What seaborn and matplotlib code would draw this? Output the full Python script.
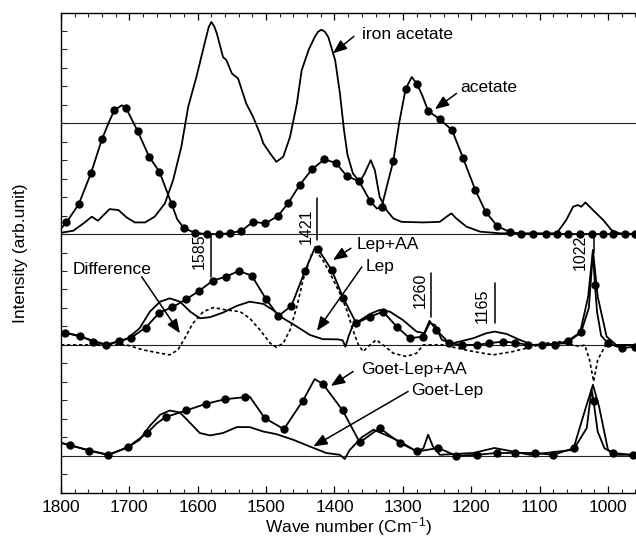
import numpy as np
import matplotlib
matplotlib.use("Agg")
import matplotlib.pyplot as plt
from matplotlib.ticker import MultipleLocator, NullFormatter
import seaborn as sns

# ---------------- data (wavenumber in cm^-1, intensity in arb. units) ----------------
# top panel: acetate (markers) and iron acetate (plain line)
acet_mk_wn = [1792, 1774, 1756, 1740, 1722, 1705, 1688, 1671, 1656, 1638,
              1620, 1604, 1587, 1569, 1553, 1536, 1519, 1501, 1483, 1468,
              1451, 1433, 1415, 1398, 1382, 1364, 1348, 1331, 1314, 1296,
              1279, 1263, 1246, 1228, 1212, 1194, 1179, 1162, 1144, 1127,
              1110, 1091, 1075, 1058, 1041, 1024, 1007, 993, 975, 961]
acet_mk_val = [0.63, 1.62, 3.31, 5.14, 6.70, 6.83, 5.58, 4.18, 3.37, 1.61,
               0.31, 0.07, 0.0, 0.0, 0.04, 0.18, 0.66, 0.58, 0.97, 1.66,
               2.65, 3.50, 4.04, 3.85, 3.14, 2.86, 1.80, 1.48, 3.95, 7.84,
               8.11, 6.66, 6.22, 5.62, 4.12, 2.38, 1.21, 0.43, 0.12, 0.0,
               0.0, 0.0, 0.0, 0.0, 0.0, 0.0, 0.0, 0.0, 0.0, 0.0]
acet_extra_wn = [1800, 1730, 1711, 1630, 1338, 1305, 1287, 1271, 958]
acet_extra_val = [0.30, 6.05, 6.97, 0.80, 1.38, 6.10, 8.50, 7.45, 0.0]

iron_wn = [1800, 1782, 1767, 1755, 1746, 1729, 1716, 1704, 1692, 1677,
           1663, 1648, 1636, 1624, 1614, 1602, 1590, 1584, 1580, 1576, 1572, 1563,
           1558, 1550, 1541, 1529, 1519, 1509, 1504, 1494, 1485, 1475,
           1465, 1455, 1448, 1438, 1429, 1424, 1419, 1414, 1409, 1399, 1392, 1386,
           1381, 1373, 1363, 1356, 1347, 1341, 1334, 1324, 1314, 1302,
           1270, 1246, 1236, 1229, 1222, 1207, 1187, 1158, 1075, 1061,
           1051, 1044, 1039, 1033, 1022, 1007, 995, 983, 958]
iron_val = [0.07, 0.18, 0.58, 0.94, 0.72, 1.35, 1.30, 0.90, 0.63, 0.63,
            0.94, 1.66, 2.92, 4.72, 6.88, 8.50, 10.31, 11.20, 11.48, 11.25, 10.85, 9.58,
            9.41, 8.69, 8.42, 7.06, 6.34, 5.44, 4.90, 4.36, 3.91, 4.18,
            5.26, 7.06, 8.86, 9.95, 10.66, 10.95, 11.06, 10.95, 10.66, 9.41, 7.61, 5.60,
            4.30, 3.28, 2.83, 3.28, 4.00, 3.46, 2.02, 1.30, 0.85, 0.66,
            0.63, 0.66, 0.94, 1.12, 0.85, 0.40, 0.13, 0.04, 0.04, 0.76,
            1.48, 1.57, 1.48, 1.71, 1.30, 0.76, 0.22, 0.04, 0.0]

# middle panel: Lep+AA (markers), Lep (plain), Difference (dashed)
lepaa_mk_wn = [1794, 1772, 1753, 1734, 1715, 1697, 1676, 1656, 1637, 1617,
               1598, 1578, 1559, 1540, 1521, 1500, 1482, 1463, 1443, 1424,
               1404, 1387, 1368, 1348, 1329, 1309, 1290, 1271, 1251, 1232,
               1213, 1192, 1174, 1154, 1136, 1117, 1097, 1078, 1058, 1039,
               1019, 1000, 980, 961]
lepaa_mk_val = [0.66, 0.49, 0.18, 0.0, 0.22, 0.40, 0.94, 1.75, 2.04, 2.47,
                2.92, 3.48, 3.69, 4.00, 3.75, 2.47, 1.57, 2.11, 4.02, 5.19,
                4.05, 2.52, 1.17, 1.53, 1.80, 0.99, 0.36, 0.45, 0.81, 0.09,
                0.0, 0.0, 0.09, 0.18, 0.12, 0.0, 0.0, 0.0, 0.23, 0.72,
                3.24, 0.09, -0.18, -0.09]
lepaa_extra_wn = [1800, 1428, 1261, 1028, 1022, 1016, 1010, 958]
lepaa_extra_val = [0.70, 5.31, 1.30, 2.00, 5.00, 1.80, 0.50, -0.05]

lep_wn = [1800, 1772, 1733, 1704, 1685, 1670, 1655, 1641, 1626, 1611,
          1597, 1582, 1563, 1543, 1524, 1504, 1490, 1475, 1455, 1436,
          1417, 1395, 1388, 1384, 1379, 1373, 1358, 1346, 1334, 1319,
          1300, 1280, 1268, 1261, 1253, 1243, 1227, 1197, 1178, 1166,
          1148, 1129, 1110, 1061, 1041, 1029, 1022, 1015, 1002, 988, 958]
lep_val = [0.72, 0.45, 0.0, 0.31, 0.90, 1.80, 2.34, 2.52, 2.34, 1.80,
           1.44, 1.50, 1.75, 2.11, 2.34, 2.22, 1.89, 1.44, 0.99, 0.54,
           0.31, 0.30, 0.25, -0.10, 0.50, 1.08, 1.44, 1.71, 1.89, 1.80,
           1.35, 0.72, 0.63, 1.17, 1.08, 0.27, 0.09, 0.36, 0.63, 0.72,
           0.59, 0.27, 0.0, 0.09, 0.63, 2.61, 5.14, 2.61, 0.45, 0.0, 0.0]

diff_wn = [1800, 1704, 1680, 1655, 1641, 1629, 1619, 1607, 1592, 1577,
           1558, 1538, 1524, 1509, 1494, 1485, 1475, 1465, 1455, 1446,
           1434, 1426, 1417, 1404, 1392, 1382, 1373, 1365, 1358, 1348,
           1339, 1329, 1314, 1295, 1280, 1270, 1240, 1231, 1197, 1168,
           1139, 1110, 1090, 1071, 1051, 1041, 1034, 1027, 1021, 1015,
           1002, 990, 958]
diff_val = [0.0, 0.0, -0.27, -0.45, -0.54, -0.27, 0.36, 1.17, 1.80, 2.02,
            1.89, 1.80, 1.44, 0.81, 0.09, -0.13, 0.09, 0.81, 2.07, 3.51,
            4.86, 5.04, 4.59, 3.69, 2.79, 1.89, 0.81, 0.0, -0.36, 0.0,
            0.27, 0.0, -0.45, -0.63, -0.45, 0.0, 0.0, -0.09, -0.36, -0.54,
            -0.36, -0.09, 0.09, 0.18, 0.0, -0.09, 0.0, -0.80, -1.98, -0.81,
            0.09, 0.0, 0.0]

# bottom panel: Goet-Lep+AA (markers) and Goet-Lep (plain)
glaa_mk_wn = [1787, 1759, 1731, 1702, 1674, 1647, 1617, 1588, 1560, 1531,
              1502, 1474, 1446, 1417, 1388, 1363, 1334, 1304, 1279, 1248,
              1222, 1192, 1163, 1136, 1107, 1080, 1049, 1021, 993, 964]
glaa_mk_val = [0.59, 0.27, 0.05, 0.47, 1.23, 2.09, 2.45, 2.81, 3.06, 3.17,
               2.04, 1.44, 2.99, 3.89, 2.45, 0.72, 1.50, 0.69, 0.23, 0.42,
               0.0, 0.05, 0.15, 0.15, 0.15, 0.05, 0.42, 2.94, 0.15, 0.05]
glaa_extra_wn = [1800, 1660, 1524, 1429, 1031, 1024, 1015, 1005, 958]
glaa_extra_val = [0.70, 1.75, 3.20, 4.15, 1.50, 3.60, 1.30, 0.40, 0.05]

gl_wn = [1800, 1772, 1731, 1704, 1685, 1670, 1655, 1641, 1626, 1611,
         1597, 1582, 1563, 1543, 1524, 1504, 1485, 1460, 1436, 1412,
         1392, 1385, 1378, 1360, 1343, 1329, 1304, 1280, 1270, 1263,
         1256, 1246, 1197, 1166, 1139, 1114, 1051, 1032, 1022, 1013,
         1000, 988, 958]
gl_val = [0.69, 0.42, 0.05, 0.42, 0.86, 1.62, 2.22, 2.45, 2.34, 1.77,
          1.23, 1.10, 1.23, 1.55, 1.55, 1.31, 1.17, 0.86, 0.50, 0.15,
          0.05, -0.18, 0.30, 1.00, 1.41, 1.19, 0.77, 0.23, 0.40, 1.14,
          0.50, 0.05, 0.15, 0.42, 0.23, 0.05, 0.32, 2.66, 3.84, 2.66,
          0.32, 0.05, 0.05]

# panel baselines (in tick units) and reference lines
panel_offsets = {"top": 12, "mid": 6, "bot": 0}
ref_lines = [0, 6, 12, 18]

# peak labels: (text, wavenumber of marker line, text wn, text y, line y0, line y1)
peak_labels = [("1585", 1581, 1598, 11.08, 12.0, 9.68),
               ("1421", 1425, 1441, 12.43, 13.95, 11.70),
               ("1260", 1259.5, 1274, 8.97, 9.88, 7.50),
               ("1165", 1164.5, 1183.5, 8.11, 9.34, 7.17),
               ("1022", 1021, 1040, 11.03, 11.89, 11.0)]

# curve names with text position and arrow tail/head
curve_labels = [("iron acetate", (1360, 22.81), (1371.6, 22.70), (1402.3, 21.78)),
                ("acetate", (1215.6, 19.95), (1221.5, 19.61), (1253.2, 18.76)),
                ("Difference", (1782.5, 10.09), (1682.0, 9.69), (1626.0, 6.63)),
                ("Lep+AA", (1367.3, 11.46), (1376.0, 11.23), (1402.3, 10.59)),
                ("Lep", (1354.1, 10.27), (1360.0, 10.22), (1425.7, 6.76)),
                ("Goet-Lep+AA", (1360.4, 4.69), (1372.7, 4.56), (1405.3, 3.78)),
                ("Goet-Lep", (1287.3, 3.53), (1292.3, 3.48), (1431.1, 0.50))]

# ---------------- styling ----------------
sns.set_theme(style="ticks")
plt.rcParams["font.family"] = ["Liberation Sans", "DejaVu Sans"]
plt.rcParams["mathtext.fontset"] = "custom"
plt.rcParams["mathtext.rm"] = "Liberation Sans"
plt.rcParams["mathtext.it"] = "Liberation Sans:italic"

fig = plt.figure(figsize=(6.36, 5.40), dpi=100)
ax = fig.add_axes([0.0959, 0.0876, 0.9041, 0.8878])

LW = 1.3
INK = "black"


def merged(wn_a, v_a, wn_b, v_b):
    wn = np.concatenate([np.asarray(wn_a, float), np.asarray(wn_b, float)])
    v = np.concatenate([np.asarray(v_a, float), np.asarray(v_b, float)])
    order = np.argsort(-wn)
    return wn[order], v[order]


def line(wn, v, off, dashed=False):
    sns.lineplot(x=np.asarray(wn, float), y=np.asarray(v, float) + off, ax=ax,
                 color=INK, linewidth=LW if not dashed else 1.2,
                 linestyle=(0, (2.0, 1.6)) if dashed else "-",
                 sort=False, estimator=None, zorder=3)


def dots(wn, v, off):
    sns.scatterplot(x=np.asarray(wn, float), y=np.asarray(v, float) + off, ax=ax,
                    color=INK, s=36, linewidth=0, zorder=4)


for yl in ref_lines:
    ax.axhline(yl, color="#222222", lw=0.8, zorder=1)

off = panel_offsets["top"]
wn, v = merged(acet_mk_wn, acet_mk_val, acet_extra_wn, acet_extra_val)
line(wn, v, off)
dots(acet_mk_wn, acet_mk_val, off)
line(iron_wn, iron_val, off)

off = panel_offsets["mid"]
wn, v = merged(lepaa_mk_wn, lepaa_mk_val, lepaa_extra_wn, lepaa_extra_val)
line(wn, v, off)
dots(lepaa_mk_wn, lepaa_mk_val, off)
line(lep_wn, lep_val, off)
line(diff_wn, diff_val, off, dashed=True)

off = panel_offsets["bot"]
wn, v = merged(glaa_mk_wn, glaa_mk_val, glaa_extra_wn, glaa_extra_val)
line(wn, v, off)
dots(glaa_mk_wn, glaa_mk_val, off)
line(gl_wn, gl_val, off)

# peak labels
for txt, lx, tx, ty, y0, y1 in peak_labels:
    ax.plot([lx, lx], [y0, y1], color=INK, lw=1.1, zorder=3)
    ax.text(tx, ty, txt, rotation=90, ha="center", va="center", fontsize=11.5, color=INK)

# curve labels with arrows
for txt, tpos, tail, head in curve_labels:
    ax.text(tpos[0], tpos[1], txt, ha="left", va="center", fontsize=12.5, color=INK)
    ax.annotate("", xy=head, xytext=tail,
                arrowprops=dict(arrowstyle="-|>,head_length=0.7,head_width=0.28",
                                color=INK, lw=1.1, shrinkA=0, shrinkB=0))

ax.set_xlim(1800, 959)
ax.set_ylim(-2.0, 23.95)
ax.xaxis.set_major_locator(MultipleLocator(100))
ax.xaxis.set_minor_locator(MultipleLocator(20))
ax.yaxis.set_major_locator(MultipleLocator(1))
ax.yaxis.set_major_formatter(NullFormatter())
ax.tick_params(axis="x", which="major", direction="in", length=5, width=0.9,
               top=True, bottom=True, labelsize=12.5, pad=5, colors=INK)
ax.tick_params(axis="x", which="minor", direction="in", length=3, width=0.8,
               top=True, bottom=True)
ax.tick_params(axis="y", which="major", direction="in", length=4, width=0.8,
               left=True, right=False)
for s in ["left", "top", "bottom"]:
    ax.spines[s].set_linewidth(1.0)
    ax.spines[s].set_color(INK)
ax.spines["right"].set_visible(False)

ax.set_xlabel("Wave number (Cm$^{-1}$)", fontsize=12.5, color=INK, labelpad=0)
ax.set_ylabel("Intensity (arb.unit)", fontsize=12.5, color=INK)
ax.yaxis.set_label_coords(-0.058, 0.5)

fig.savefig("out.png", dpi=100)
